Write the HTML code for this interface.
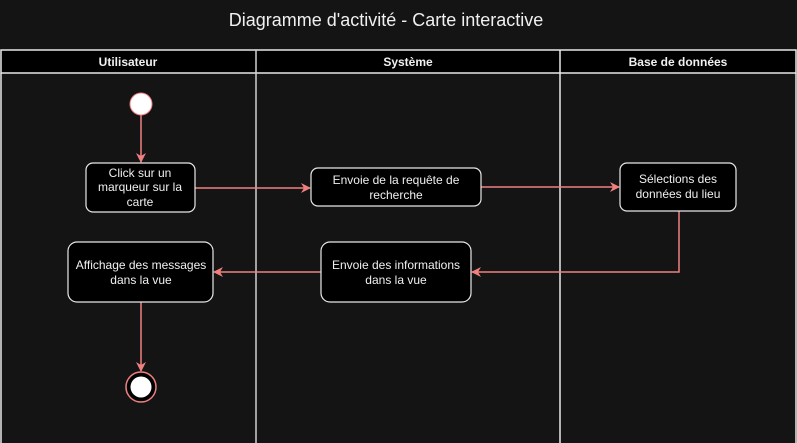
<!DOCTYPE html>
<html><head><meta charset="utf-8"><style>
html,body{margin:0;padding:0;background:#141414;}
svg{display:block;font-family:"Liberation Sans",Arial,sans-serif;}
</style></head><body>
<svg width="797" height="443" viewBox="0 0 797 443" xmlns="http://www.w3.org/2000/svg">
<defs>
<marker id="a" markerWidth="10" markerHeight="10" refX="9" refY="5" orient="auto" markerUnits="userSpaceOnUse">
<path d="M0,0 L10,5 L0,10 L3,5 z" fill="#f08080"/></marker>
</defs>
<rect width="797" height="443" fill="#141414"/>
<text x="386" y="26" fill="#f0f0f0" font-size="18" text-anchor="middle">Diagramme d'activité - Carte interactive</text>
<rect x="1" y="50" width="795" height="23" fill="#000" stroke="#e8e8e8" stroke-width="1.5"/>
<line x1="256" y1="50" x2="256" y2="443" stroke="#d0d0d0" stroke-width="1.5"/>
<line x1="560" y1="50" x2="560" y2="443" stroke="#e8e8e8" stroke-width="1.5"/>
<line x1="1" y1="73" x2="1" y2="443" stroke="#e8e8e8" stroke-width="1.5"/>
<line x1="796" y1="73" x2="796" y2="443" stroke="#e8e8e8" stroke-width="1.5"/>
<g fill="#f0f0f0" font-size="12" font-weight="bold" text-anchor="middle">
<text x="128" y="66">Utilisateur</text>
<text x="408" y="66">Système</text>
<text x="678" y="66">Base de données</text>
</g>
<g stroke="#f08080" stroke-width="1.5" fill="none">
<line x1="141" y1="115" x2="141" y2="162" marker-end="url(#a)"/>
<line x1="195" y1="188" x2="310" y2="188" marker-end="url(#a)"/>
<line x1="481" y1="187" x2="619" y2="187" marker-end="url(#a)"/>
<polyline points="679,211 679,272 472,272" marker-end="url(#a)"/>
<line x1="321" y1="272" x2="214" y2="272" marker-end="url(#a)"/>
<line x1="141" y1="302" x2="141" y2="371" marker-end="url(#a)"/>
</g>
<circle cx="141" cy="104" r="11" fill="#fff" stroke="#f08080" stroke-width="1"/>
<circle cx="141" cy="387" r="15" fill="#000" stroke="#f08080" stroke-width="1.5"/>
<circle cx="141" cy="387" r="10.5" fill="#fff"/>
<g fill="#000" stroke="#e8e8e8" stroke-width="1.2">
<rect x="86" y="163" width="109" height="49" rx="7"/>
<rect x="311" y="168" width="170" height="38" rx="7"/>
<rect x="620" y="163" width="116" height="48" rx="7"/>
<rect x="321" y="242" width="150" height="60" rx="9"/>
<rect x="68" y="242" width="145" height="60" rx="9"/>
</g>
<g fill="#f0f0f0" font-size="12" text-anchor="middle">
<text x="140" y="177">Click sur un</text>
<text x="140" y="191">marqueur sur la</text>
<text x="140" y="206">carte</text>
<text x="396" y="184">Envoie de la requête de</text>
<text x="396" y="199">recherche</text>
<text x="678" y="183">Sélections des</text>
<text x="678" y="198">données du lieu</text>
<text x="396" y="269">Envoie des informations</text>
<text x="396" y="284">dans la vue</text>
<text x="141" y="269">Affichage des messages</text>
<text x="141" y="284">dans la vue</text>
</g>
</svg>
</body></html>
